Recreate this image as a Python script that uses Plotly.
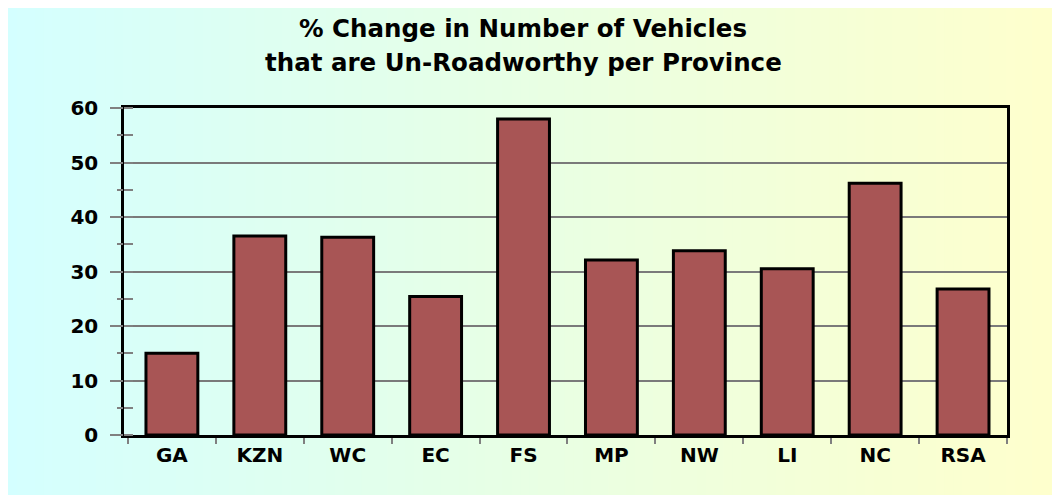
import plotly.graph_objects as go

# ---- data ----
provinces = ["GA", "KZN", "WC", "EC", "FS", "MP", "NW", "LI", "NC", "RSA"]
pct_change = [15.0, 36.5, 36.3, 25.4, 58.0, 32.1, 33.8, 30.5, 46.2, 26.8]
y_ticks = [0, 10, 20, 30, 40, 50, 60]

title_line1 = "% Change in Number of Vehicles"
title_line2 = "that are Un-Roadworthy per Province"

W, H = 1060, 495
L, R, T, B = 116, 61, 100, 68
pw, ph = W - L - R, H - T - B

def px_to_paper_x(px):
    return (px - L) / pw

def px_to_paper_y(py):
    return (H - B - py) / ph

# background gradient stripes (cyan -> pale green -> pale yellow)
stops = [(0, (212, 255, 255)), (520, (232, 255, 228)), (1060, (255, 255, 204))]
def grad(x):
    for (x0, c0), (x1, c1) in zip(stops[:-1], stops[1:]):
        if x <= x1:
            t = (x - x0) / (x1 - x0)
            return tuple(round(a + (b - a) * t) for a, b in zip(c0, c1))
    return stops[-1][1]

shapes = []
n = 120
x_start, x_end = 0, 1060
step = (x_end - x_start) / n
for i in range(n):
    xa = x_start + i * step
    xb = xa + step + 0.8
    c = grad(xa + step / 2)
    shapes.append(dict(type="rect", xref="paper", yref="paper", layer="below",
                       x0=px_to_paper_x(xa), x1=px_to_paper_x(xb),
                       y0=px_to_paper_y(H + 2), y1=px_to_paper_y(-2),
                       fillcolor="rgb(%d,%d,%d)" % c, line=dict(width=0)))

fig = go.Figure()
fig.add_trace(go.Bar(
    x=provinces, y=pct_change,
    marker=dict(color="#A85555", line=dict(color="black", width=3)),
    width=0.59, hoverinfo="x+y",
))
# helper invisible trace for the outside part of minor ticks
fig.add_trace(go.Scatter(x=provinces[:1], y=[0], yaxis="y2", mode="markers",
                         marker=dict(opacity=0), hoverinfo="skip", showlegend=False))

FONT = "DejaVu Sans, Verdana, sans-serif"
tickfont = dict(family=FONT, size=20, color="black", weight="bold")

fig.update_layout(
    width=W, height=H,
    margin=dict(l=L, r=R, t=T, b=B),
    paper_bgcolor="white",
    plot_bgcolor="rgba(0,0,0,0)",
    showlegend=False,
    shapes=shapes,
    xaxis=dict(
        type="category", categoryorder="array", categoryarray=provinces,
        showline=True, linecolor="black", linewidth=2.5, mirror=True,
        ticks="outside", tickson="boundaries", ticklen=6, tickwidth=2, tickcolor="#808080",
        tickfont=tickfont, ticklabelstandoff=0, showgrid=False,
    ),
    yaxis=dict(
        range=[0, 60], tickvals=y_ticks,
        showline=True, linecolor="black", linewidth=2.5, mirror=True,
        ticks="outside", ticklen=11, tickwidth=2, tickcolor="#808080",
        showgrid=True, gridcolor="#7a7a7a", gridwidth=2,
        minor=dict(dtick=5, ticks="inside", ticklen=9, tickwidth=2, tickcolor="#808080", showgrid=False),
        tickfont=tickfont, ticklabelstandoff=8, zeroline=False,
    ),
    yaxis2=dict(
        overlaying="y", side="left", range=[0, 60], dtick=5,
        ticks="outside", ticklen=6, tickwidth=2, tickcolor="#808080",
        showticklabels=False, showgrid=False, showline=False, zeroline=False,
    ),
    annotations=[
        dict(text=title_line1, xref="paper", yref="paper",
             x=px_to_paper_x(515), y=px_to_paper_y(21), showarrow=False,
             xanchor="center", yanchor="middle",
             font=dict(family=FONT, size=24.5, color="black", weight="bold")),
        dict(text=title_line2, xref="paper", yref="paper",
             x=px_to_paper_x(515), y=px_to_paper_y(55), showarrow=False,
             xanchor="center", yanchor="middle",
             font=dict(family=FONT, size=24.5, color="black", weight="bold")),
    ],
)

fig.write_html("out.html")
